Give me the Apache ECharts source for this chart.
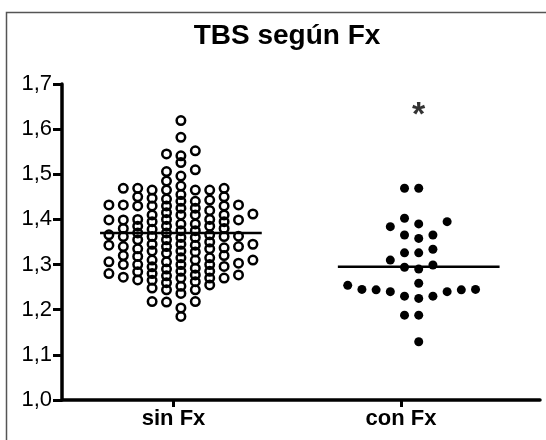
<!DOCTYPE html>
<html>
<head>
<meta charset="utf-8">
<script src="https://cdn.jsdelivr.net/npm/echarts@6/dist/echarts.min.js"></script>
<style>
html,body{margin:0;padding:0;background:#fff;}
#c{width:546px;height:440px;}
</style>
</head>
<body>
<div id="c"></div>
<script>
// ---- data ----
const categories = ['sin Fx', 'con Fx'];
const yTickLabels = ['1,0','1,1','1,2','1,3','1,4','1,5','1,6','1,7'];
const sinFx = [
  1.469,1.432,1.399,1.362,1.343,1.306,1.284,
  1.465,1.432,1.41,1.385,1.362,1.343,1.318,1.296,1.277,
  1.465,1.43,1.41,1.39,1.375,1.355,1.34,1.32,1.30,1.28,1.265,
  1.510,1.455,1.44,1.425,1.41,1.395,1.378,1.363,1.345,1.33,1.31,1.29,1.275,1.26,1.244,
  1.545,1.496,1.45,1.44,1.42,1.40,1.385,1.37,1.35,1.335,1.32,1.30,1.285,1.27,1.252,1.236,1.218,
  1.474,
  1.619,1.582,1.526,1.485,1.447,1.43,1.415,1.40,1.385,1.37,1.355,1.34,1.325,1.31,1.295,1.28,1.255,1.218,1.185,
  1.469,
  1.541,1.506,1.445,1.425,1.41,1.39,1.375,1.36,1.345,1.33,1.315,1.30,1.285,1.262,1.244,1.204,
  1.552,1.45,1.43,1.412,1.395,1.38,1.362,1.345,1.328,1.31,1.292,1.27,1.266,1.248,1.217,
  1.465,1.43,1.40,1.38,1.36,1.335,1.315,1.30,1.27,
  1.465,1.432,1.399,1.366,1.337,1.306,1.272,
  1.469,1.443,1.399,1.366,1.340,1.303,1.277
];
const conFx = [
  1.469,1.469,1.4025,1.395,1.390,1.384,1.3655,1.3655,1.358,1.334,1.326,1.326,
  1.310,1.299,1.294,1.290,1.2585,1.254,1.245,1.245,1.244,1.244,1.240,1.240,
  1.230,1.230,1.225,1.188,1.188,1.129
];
const medians = [1.37, 1.295];
const significanceMark = { category: 1, value: 1.647, text: '*' };

// ---- layout ----
const W = 546, H = 440;
const G = { left: 62, right: 6, top: 84, bottom: 40 };
const X_MIN = 0.5, X_MAX = 2.51, Y_MIN = 1.0, Y_MAX = 1.7;
const pxPerX = (W - G.left - G.right) / (X_MAX - X_MIN);
const pxPerY = (H - G.top - G.bottom) / (Y_MAX - Y_MIN);
const tickPos = [0.969, 1.9256];
const lineHalf = 0.34;

// simple beeswarm: place sorted values into horizontal slots
function swarm(values, center, minGapPx, slotPx) {
  const sorted = values.slice().sort((a, b) => a - b);
  const last = {};
  const out = [];
  for (const v of sorted) {
    const ypx = v * pxPerY;
    for (let k = 0; k < 200; k++) {
      const slot = k % 2 ? -(k + 1) / 2 : k / 2;
      if (last[slot] === undefined || ypx - last[slot] >= minGapPx) {
        last[slot] = ypx;
        out.push([center + slot * slotPx / pxPerX, v]);
        break;
      }
    }
  }
  return out;
}

const sinPts = swarm(sinFx, 1, 6.4, 14.4);
const conPts = swarm(conFx, 2, 14, 14.2);

const chart = echarts.init(document.getElementById('c'), null, { renderer: 'canvas' });
chart.setOption({
  animation: false,
  backgroundColor: '#fff',
  grid: { left: G.left, right: G.right, top: G.top, bottom: G.bottom },
  graphic: [
    { type: 'rect', shape: { x: 6.5, y: 12.5, width: 600, height: 600 },
      style: { fill: 'none', stroke: '#555', lineWidth: 1.5 }, silent: true, z: -10 },
    { type: 'text', x: 287, y: 36,
      style: { text: 'TBS según Fx', font: 'bold 28px "Liberation Sans", Arial, sans-serif',
               fill: '#000', textAlign: 'center', textVerticalAlign: 'middle' } }
  ],
  xAxis: {
    type: 'value', min: X_MIN, max: X_MAX,
    splitLine: { show: false },
    axisLine: { show: true, lineStyle: { color: '#000', width: 3.5 } },
    axisTick: { show: true, customValues: tickPos, length: 7, lineStyle: { color: '#000', width: 3 } },
    axisLabel: {
      customValues: tickPos, margin: 8,
      formatter: (v) => categories[tickPos.indexOf(v)] ?? '',
      fontFamily: '"Liberation Sans", Arial, sans-serif', fontWeight: 'bold', fontSize: 22, color: '#000'
    }
  },
  yAxis: {
    type: 'value', min: Y_MIN, max: Y_MAX, interval: 0.1,
    splitLine: { show: false },
    axisLine: { show: true, lineStyle: { color: '#000', width: 3.5 } },
    axisTick: { show: true, length: 9, lineStyle: { color: '#000', width: 3 } },
    axisLabel: {
      margin: 10,
      formatter: (v) => yTickLabels[Math.round((v - Y_MIN) * 10)] ?? '',
      fontFamily: '"Liberation Sans", Arial, sans-serif', fontSize: 22, color: '#000'
    }
  },
  series: [
    { type: 'scatter', data: sinPts, symbol: 'circle', symbolSize: 8.5,
      itemStyle: { color: 'rgba(0,0,0,0)', borderColor: '#000', borderWidth: 2.5, opacity: 1 }, z: 3 },
    { type: 'scatter', data: conPts, symbol: 'circle', symbolSize: 9,
      itemStyle: { color: '#000', opacity: 1 }, z: 3 },
    { type: 'line', data: [[1 - lineHalf, medians[0]], [1 + lineHalf, medians[0]]],
      symbol: 'none', lineStyle: { color: '#000', width: 2.5 }, z: 4 },
    { type: 'line', data: [[2 - lineHalf, medians[1]], [2 + lineHalf, medians[1]]],
      symbol: 'none', lineStyle: { color: '#000', width: 2.5 }, z: 4 },
    { type: 'scatter', data: [[significanceMark.category + 1, significanceMark.value]],
      symbolSize: 0, silent: true,
      label: { show: true, position: 'inside', formatter: significanceMark.text,
               fontFamily: '"Liberation Sans", Arial, sans-serif', fontWeight: 'bold', fontSize: 34, color: '#000', offset: [0, 8] } }
  ]
});
</script>
</body>
</html>
